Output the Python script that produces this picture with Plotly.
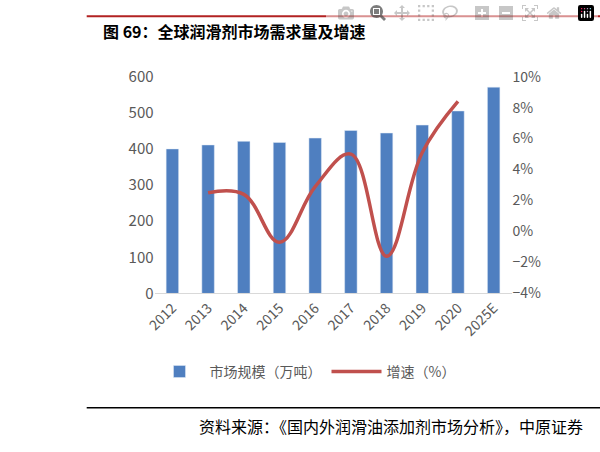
import plotly.graph_objects as go

years = ["2012","2013","2014","2015","2016","2017","2018","2019","2020","2025E"]
scale = [400, 411, 421, 418, 430, 451, 444, 466, 505, 571]
growth_years = ["2013","2014","2015","2016","2017","2018","2019","2020"]
growth = [2.5, 2.4, -0.7, 2.9, 5.0, -1.6, 5.1, 8.4]

fig = go.Figure()
fig.add_trace(go.Bar(x=years, y=scale, name="市场规模（万吨）", marker_color="#4F7FC0", width=0.35))
fig.add_trace(go.Scatter(x=growth_years, y=growth, name="增速（%）", yaxis="y2", mode="lines",
                         line=dict(color="#C0504D", width=3.5, shape="spline", smoothing=1.1)))

font = "Noto Sans CJK SC"
fig.update_layout(
    width=600, height=452, margin=dict(l=0, r=0, t=0, b=0),
    plot_bgcolor="white", paper_bgcolor="white",
    font=dict(family=font, color="#595959", size=14),
    showlegend=True,
    legend=dict(orientation="h", x=0.5, xanchor="center", y=0.165, yanchor="middle",
                font=dict(size=14, color="#595959"), itemwidth=50),
    xaxis=dict(domain=[0.245, 0.85], type="category", categoryorder="array", categoryarray=years,
               tickangle=-45, showline=True, linecolor="#D9D9D9", ticks="", tickfont=dict(size=14)),
    yaxis=dict(range=[0, 600], dtick=100, showgrid=False, showline=False, ticks="",
               tickfont=dict(size=15), anchor="x", domain=[0.347, 0.85]),
    yaxis2=dict(range=[-4, 10], dtick=2, overlaying="y", side="right", showgrid=False,
                ticksuffix="%", tickfont=dict(size=14), anchor="x", domain=[0.347, 0.85]),
    bargap=0.6,
)

fig.add_shape(type="line", xref="paper", yref="paper", x0=0.13, x1=1, y0=0.99, y1=0.99,
              line=dict(color="#B22222", width=2))
fig.add_shape(type="line", xref="paper", yref="paper", x0=0.13, x1=1, y0=0.082, y1=0.082,
              line=dict(color="#000000", width=1.5))
fig.add_annotation(text="<b>图 69：全球润滑剂市场需求量及增速</b>", xref="paper", yref="paper",
                   x=0.155, y=0.955, xanchor="left", yanchor="middle", showarrow=False,
                   font=dict(size=16, color="#000000", family=font))
fig.add_annotation(text="资料来源：《国内外润滑油添加剂市场分析》，中原证券", xref="paper", yref="paper",
                   x=0.975, y=0.04, xanchor="right", yanchor="middle", showarrow=False,
                   font=dict(size=16, color="#000000", family=font))

fig.write_html("out.html", post_script="document.body.style.margin='0';document.body.style.overflow='hidden';")
